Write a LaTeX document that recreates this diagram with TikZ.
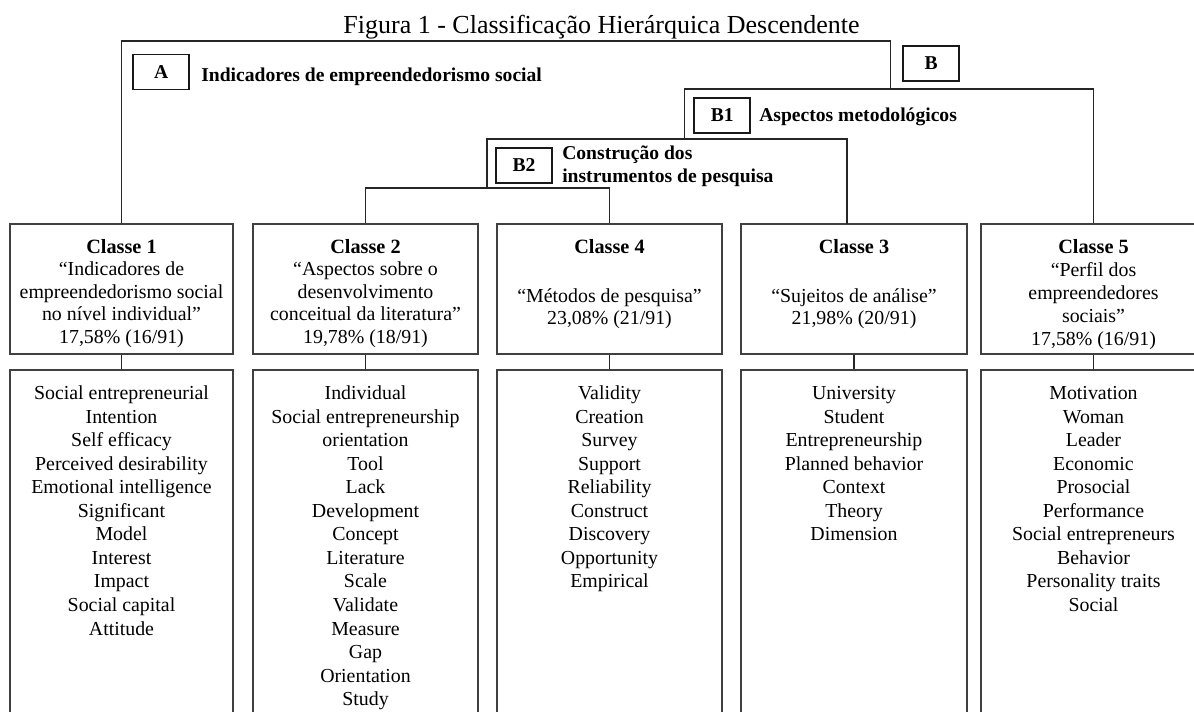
\documentclass[tikz,border=0pt]{standalone}
\usepackage{fontspec}
\setmainfont{Liberation Serif}
\begin{document}
\begin{tikzpicture}[x=0.75pt,y=-0.75pt,
  conn/.style={draw=black!85, line width=0.95pt},
  txt/.style={font={\fontsize{14.9}{18}\selectfont}, inner sep=0pt, anchor=base},
  ttl/.style={font={\fontsize{15.2}{18}\selectfont\bfseries}, inner sep=0pt, anchor=base},
  lbl/.style={font={\fontsize{14.7}{17}\selectfont\bfseries}, inner sep=0pt, anchor=base west},
  lblbox/.style={draw=black!90, line width=1.3pt, minimum width=42pt, minimum height=26.25pt, inner sep=0pt, font={\fontsize{14.7}{17}\selectfont\bfseries}},
  cbox/.style={draw=black!75, line width=1.1pt, minimum height=97.5pt, inner sep=0pt},
  lbox/.style={draw=black!75, line width=1.1pt, minimum height=262.5pt, inner sep=0pt},
]
\useasboundingbox (0,0) rectangle (1194,711);
\clip (0,0) rectangle (1194,711);

% title
\node[font={\fontsize{19.5}{22}\selectfont}, anchor=base, inner sep=0pt] (title) at (601.5,33) {Figura 1 - Classificação Hierárquica Descendente};

% class boxes
\node[cbox, minimum width=167.25pt] (c1) at (121.5,289) {};
\node[cbox, minimum width=168.75pt] (c2) at (365.5,289) {};
\node[cbox, minimum width=168.75pt] (c4) at (609.5,289) {};
\node[cbox, minimum width=169.5pt]  (c3) at (854,289) {};
\node[cbox, minimum width=168.75pt] (c5) at (1093.5,289) {};

% list boxes (run past the bottom edge)
\node[lbox, minimum width=167.25pt] (l1) at (121.5,545) {};
\node[lbox, minimum width=168.75pt] (l2) at (365.5,545) {};
\node[lbox, minimum width=168.75pt] (l4) at (609.5,545) {};
\node[lbox, minimum width=169.5pt]  (l3) at (854,545) {};
\node[lbox, minimum width=168.75pt] (l5) at (1093.5,545) {};

% label boxes and labels
\node[lblbox] (bA)  at (161.2,72)   {A};
\node[lblbox] (bB)  at (931.2,63.5) {B};
\node[lblbox] (bB1) at (722.3,115.5) {B1};
\node[lblbox] (bB2) at (524,165.5)  {B2};
\node[lbl] (tA)   at (201,81.5)  {Indicadores de empreendedorismo social};
\node[lbl] (tB1)  at (759,121.7) {Aspectos metodológicos};
\node[lbl] (tB2a) at (562,159.5) {Construção dos};
\node[lbl] (tB2b) at (562,182.5) {instrumentos de pesquisa};

% dendrogram
\coordinate (jBtop) at (890.6,41);
\coordinate (jB)    at (890.6,89);
\coordinate (jB1L)  at (684.7,89);
\coordinate (jB2L)  at (487,139);
\coordinate (jB2R)  at (847,139);
\coordinate (jC)    at (487,188);
\coordinate (c3in)  at (847,224);
\draw[conn] (c1.north) |- (jBtop) -- (jB);
\draw[conn] (c5.north) |- (jB1L) -- (jB1L |- jB2L);
\draw[conn] (c3in) -- (jB2R) -- (jB2L) -- (jC);
\draw[conn] (c2.north) |- (jC) -| (c4.north);

% class to list connectors
\draw[conn] (c1.south) -- (l1.north);
\draw[conn] (c2.south) -- (l2.north);
\draw[conn] (c4.south) -- (l4.north);
\draw[conn] (c3.south) -- (l3.north);
\draw[conn] (c5.south) -- (l5.north);

% class texts
\node[ttl] (c1t) at (121.5,253) {Classe 1};
\foreach [count=\i] \w in {“Indicadores de, empreendedorismo social, no nível individual”, {17,58\% (16/91)}}
  \node[txt] (c1-\i) at (121.5,{253+22.5*\i}) {\w};
\node[ttl] (c2t) at (365.5,253) {Classe 2};
\foreach [count=\i] \w in {“Aspectos sobre o, desenvolvimento, conceitual da literatura”, {19,78\% (18/91)}}
  \node[txt] (c2-\i) at (365.5,{253+22.5*\i}) {\w};
\node[ttl] (c4t) at (609.5,253) {Classe 4};
\node[txt] (c4-1) at (609.5,302) {“Métodos de pesquisa”};
\node[txt] (c4-2) at (609.5,324.5) {23,08\% (21/91)};
\node[ttl] (c3t) at (854,253) {Classe 3};
\node[txt] (c3-1) at (854,302) {“Sujeitos de análise”};
\node[txt] (c3-2) at (854,324.5) {21,98\% (20/91)};
\node[ttl] (c5t) at (1093.5,253) {Classe 5};
\foreach [count=\i] \w in {“Perfil dos, empreendedores, sociais”, {17,58\% (16/91)}}
  \node[txt] (c5-\i) at (1093.5,{253+23*\i}) {\w};

% list texts
\foreach [count=\i] \w in {Social entrepreneurial, Intention, Self efficacy, Perceived desirability, Emotional intelligence, Significant, Model, Interest, Impact, Social capital, Attitude}
  \node[txt] (la-\i) at (121.5,{399.5+23.55*(\i-1)}) {\w};
\foreach [count=\i] \w in {Individual, Social entrepreneurship, orientation, Tool, Lack, Development, Concept, Literature, Scale, Validate, Measure, Gap, Orientation, Study}
  \node[txt] (lb-\i) at (365.5,{399.5+23.55*(\i-1)}) {\w};
\foreach [count=\i] \w in {Validity, Creation, Survey, Support, Reliability, Construct, Discovery, Opportunity, Empirical}
  \node[txt] (ld-\i) at (609.5,{399.5+23.55*(\i-1)}) {\w};
\foreach [count=\i] \w in {University, Student, Entrepreneurship, Planned behavior, Context, Theory, Dimension}
  \node[txt] (lc-\i) at (854,{399.5+23.55*(\i-1)}) {\w};
\foreach [count=\i] \w in {Motivation, Woman, Leader, Economic, Prosocial, Performance, Social entrepreneurs, Behavior, Personality traits, Social}
  \node[txt] (le-\i) at (1093.5,{399.5+23.55*(\i-1)}) {\w};
\end{tikzpicture}
\end{document}
